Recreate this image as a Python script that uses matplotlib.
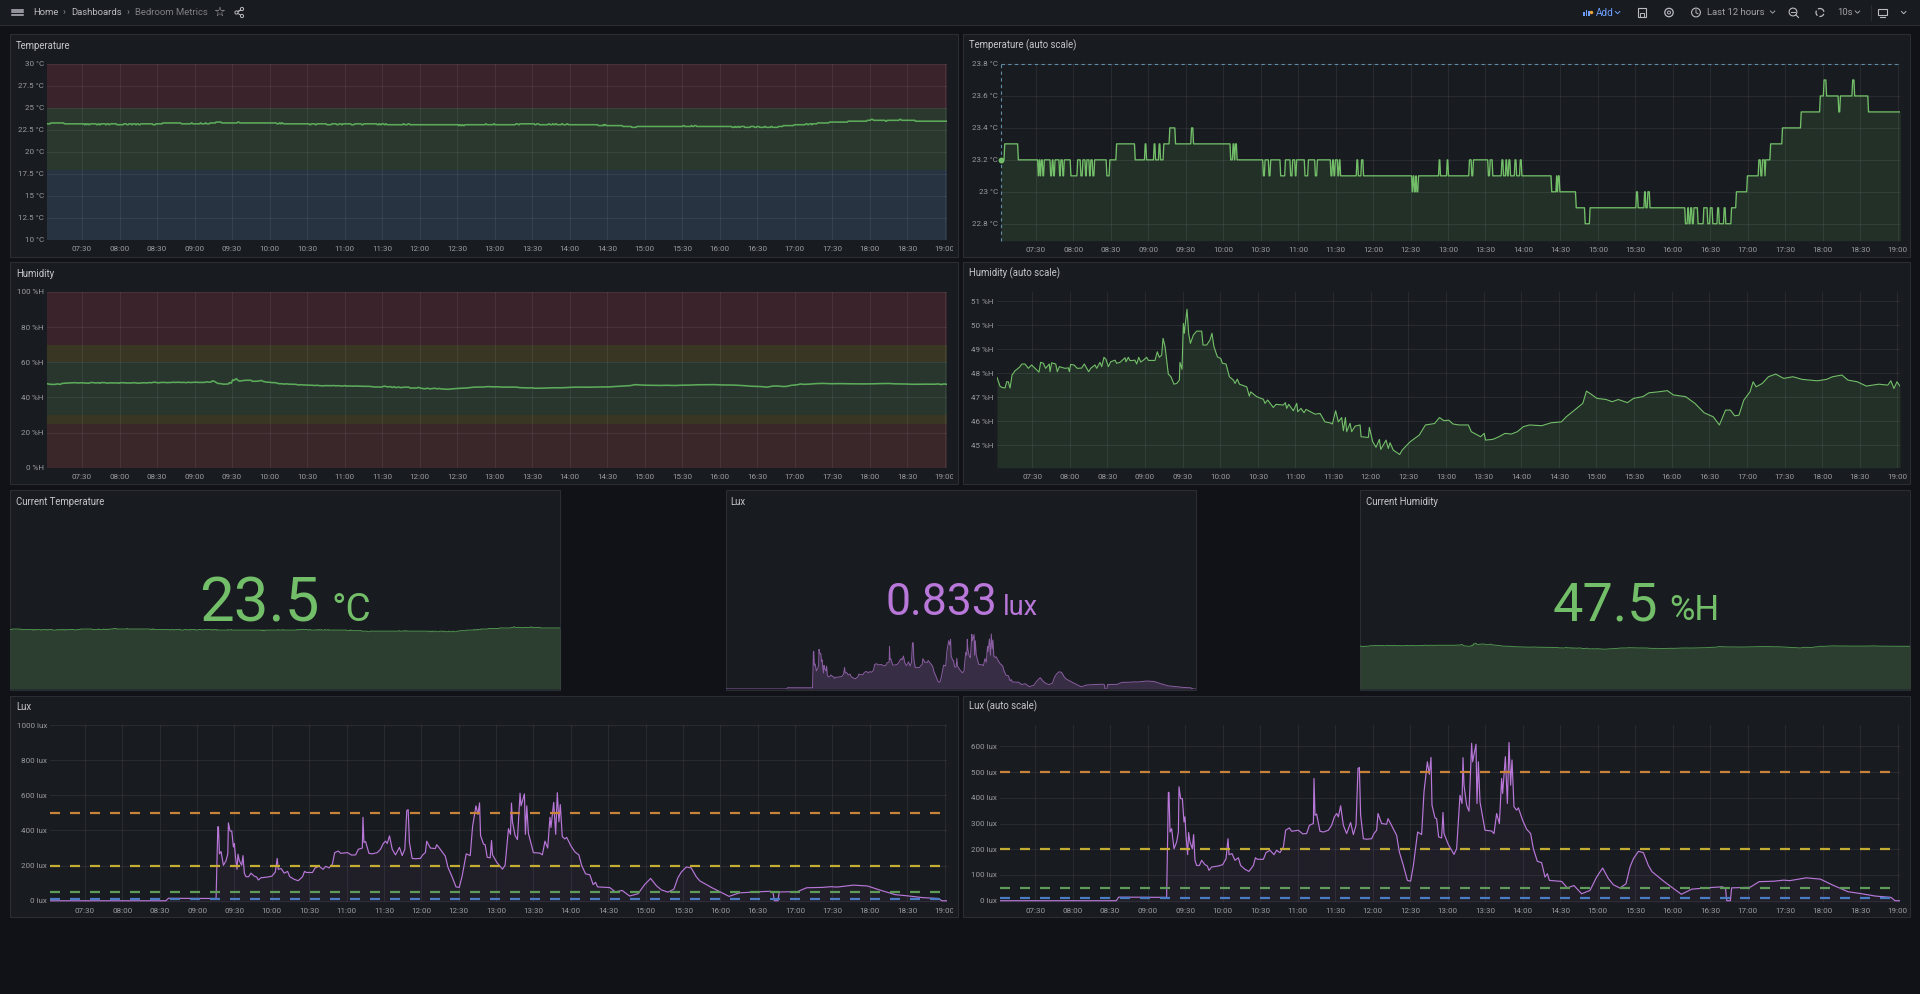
"""
Bedroom Metrics dashboard, redrawn with matplotlib.
"""
import numpy as np
import matplotlib
matplotlib.use('Agg')
import matplotlib.pyplot as plt
from matplotlib.patches import Rectangle, Circle
from matplotlib.transforms import Bbox

plt.rcParams['font.family'] = ['Roboto', 'DejaVu Sans']
plt.rcParams['lines.scale_dashes'] = False

W, H = 1920, 994

# time is in minutes since 07:00
time_ticks = list(range(30, 721, 30))
time_labels = ['07:30', '08:00', '08:30', '09:00', '09:30', '10:00', '10:30', '11:00',
               '11:30', '12:00', '12:30', '13:00', '13:30', '14:00', '14:30', '15:00',
               '15:30', '16:00', '16:30', '17:00', '17:30', '18:00', '18:30', '19:00']

# (minute the reading changes, new reading)
temperature = np.array([
    (2, 23.2), (4.7, 23.3), (15.6, 23.2), (31.6, 23.1), (32.4, 23.2), (33.2, 23.1), (34, 23.2),
    (35.3, 23.1), (36.4, 23.2), (41.5, 23.1), (42.8, 23.2), (43.9, 23.1), (45, 23.2), (48.7, 23.1),
    (49.7, 23.2), (51.3, 23.1), (52.4, 23.2), (57.7, 23.1), (63.1, 23.2), (65.7, 23.1), (67.3, 23.2),
    (69.5, 23.1), (70.5, 23.2), (72.7, 23.1), (73.7, 23.2), (75.3, 23.1), (76.7, 23.2), (86.5, 23.1),
    (88.9, 23.2), (94.3, 23.3), (109.2, 23.2), (117.2, 23.3), (118.3, 23.2), (124.4, 23.3),
    (125.5, 23.2), (128.4, 23.3), (129.5, 23.2), (132.1, 23.3), (136.9, 23.4), (141.5, 23.3),
    (154.3, 23.4), (155.9, 23.3), (185.7, 23.2), (187.6, 23.3), (188.7, 23.2), (189.5, 23.3),
    (190.8, 23.2), (211.9, 23.1), (213.2, 23.2), (216.4, 23.1), (217.7, 23.2), (225.7, 23.1),
    (229.5, 23.2), (233.7, 23.1), (235.3, 23.2), (237.5, 23.1), (238.5, 23.2), (245.2, 23.1),
    (247.9, 23.2), (253.5, 23.1), (255.1, 23.2), (266, 23.1), (267.3, 23.2), (268.4, 23.1),
    (269.5, 23.2), (271.6, 23.1), (272.7, 23.2), (273.7, 23.1), (286.8, 23.2), (287.9, 23.1),
    (290.5, 23.2), (292.1, 23.1), (331.1, 23.0), (331.9, 23.1), (332.9, 23.0), (334, 23.1),
    (334.8, 23.0), (336.1, 23.1), (352.7, 23.2), (353.7, 23.1), (359.1, 23.2), (360.1, 23.1),
    (376.9, 23.2), (378.8, 23.1), (380.1, 23.2), (392.1, 23.1), (393.5, 23.2), (395.6, 23.1),
    (402.9, 23.2), (404.2, 23.1), (406.2, 23.2), (407.2, 23.1), (408.5, 23.2), (409.8, 23.1),
    (413.4, 23.2), (414.7, 23.1), (417.6, 23.2), (418.9, 23.1), (442.8, 23.0), (446.7, 23.1),
    (447.3, 23.0), (448, 23.1), (449.3, 23.0), (462.4, 22.9), (469.6, 22.8), (473.5, 22.9),
    (510.7, 23.0), (512, 22.9), (517.2, 23.0), (518.2, 22.9), (519.8, 23.0), (521.5, 22.9),
    (549.9, 22.8), (551.8, 22.9), (552.8, 22.8), (554.1, 22.9), (555.4, 22.8), (556.7, 22.9),
    (560, 22.8), (564.6, 22.9), (567.8, 22.8), (569.8, 22.9), (571.8, 22.8), (575.7, 22.9),
    (577, 22.8), (580.9, 22.9), (582.2, 22.8), (586.8, 22.9), (590.7, 23.0), (599.5, 23.1),
    (608.7, 23.2), (610.3, 23.1), (611.6, 23.2), (613.6, 23.1), (614.2, 23.2), (618.1, 23.3),
    (627.6, 23.4), (642.6, 23.5), (657.9, 23.6), (660.9, 23.7), (662.9, 23.6), (672.7, 23.5),
    (674, 23.6), (683.8, 23.7), (685.4, 23.6), (696.5, 23.5), (722, 23.5),
])

# (minute, reading)
humidity = np.array([
    (2, 47.83), (3.5, 47.6), (4.4, 47.47), (5.7, 47.42), (8.4, 47.39), (9.7, 47.65), (11, 47.65),
    (12.4, 47.39), (14, 47.93), (16.4, 48.11), (19.8, 48.25), (21.9, 48.39), (24.3, 48.39),
    (27, 48.21), (29.6, 48.35), (32.3, 48.21), (35.5, 48.05), (36.8, 48.46), (39, 48.42),
    (40.8, 48.21), (43.7, 48.39), (44.3, 48.07), (45.6, 48.44), (48.8, 48.39), (50.1, 48.07),
    (51.7, 48.28), (56.2, 48.21), (58.9, 48.23), (59.7, 48.07), (60.7, 48.37), (63.4, 48.35),
    (66, 48.21), (69.5, 48.22), (71.6, 48.39), (75.1, 48.07), (76.7, 48.21), (80.1, 48.35),
    (81.5, 48.21), (84.1, 48.46), (85.5, 48.28), (87.3, 48.67), (88.9, 48.58), (90.8, 48.28),
    (92.6, 48.48), (96.1, 48.55), (97.4, 48.42), (100.1, 48.46), (104.1, 48.65), (104.9, 48.48),
    (106.7, 48.67), (108.1, 48.53), (112, 48.55), (113.4, 48.39), (115, 48.67), (116.6, 48.47),
    (118.7, 48.55), (121.3, 48.67), (122.7, 48.54), (128, 48.54), (129.8, 48.9), (131.4, 48.67),
    (133.3, 48.76), (134.4, 49.46), (136, 49.11), (138.6, 47.97), (140.7, 47.86), (143.1, 47.55),
    (145.3, 47.58), (147.4, 47.72), (147.9, 48.46), (149.5, 48.17), (150.6, 50.08), (151.4, 49.67),
    (152.2, 50.08), (153.5, 50.67), (154.8, 49.67), (156.2, 49.25), (158.6, 49.6), (161.2, 49.76),
    (165.2, 49.76), (166.3, 49.18), (169.2, 49.18), (171.8, 49.39), (173.4, 49.67), (175, 49.11),
    (177.7, 48.69), (180.4, 48.62), (181.7, 48.42), (184.6, 48.39), (187.3, 47.86), (190.5, 47.72),
    (191.8, 47.58), (193.6, 47.76), (195.3, 47.55), (201.1, 47.44), (203.2, 47.05), (204.3, 47.23),
    (209, 47.03), (214.4, 46.92), (215.7, 46.75), (217.8, 46.89), (222.3, 46.58), (224.5, 46.71),
    (230.3, 46.68), (231.9, 46.78), (233, 46.54), (234.6, 46.71), (238.3, 46.44), (241, 46.75),
    (241.8, 46.4), (244.4, 46.54), (246.8, 46.36), (248.4, 46.5), (255.6, 46.3), (259.6, 46.33),
    (263.5, 45.98), (267.5, 45.94), (269.4, 45.89), (272, 46.44), (274.2, 45.98), (276.8, 46.16),
    (278.2, 45.61), (279.8, 46.16), (280.8, 45.57), (283.5, 45.92), (284.8, 45.57), (287.5, 45.8),
    (291.5, 45.85), (292.3, 45.36), (298.1, 45.33), (298.9, 45.75), (301.6, 45.15), (304.2, 44.92),
    (306.9, 45.25), (308, 44.83), (312.2, 45.22), (314, 44.87), (315.4, 45.11), (318, 44.8),
    (323.1, 44.62), (325, 44.8), (331.4, 45.15), (338.7, 45.43), (343.6, 45.85), (350.9, 45.91),
    (354.8, 46.16), (358.3, 46.03), (362.2, 46.05), (365.6, 45.89), (370.5, 45.85), (377.8, 45.85),
    (380.2, 45.57), (387.6, 45.36), (390.5, 45.5), (391.5, 45.22), (397.3, 45.25), (402.2, 45.36),
    (407.1, 45.5), (412, 45.47), (416.9, 45.57), (421.7, 45.78), (426.6, 45.85), (436.4, 45.82),
    (443.7, 45.94), (452, 45.98), (455.9, 46.19), (463.2, 46.5), (469.1, 46.75), (472, 47.26),
    (475.5, 47.14), (480.3, 46.96), (487.7, 46.91), (492.5, 46.82), (497.4, 46.91), (504.7, 46.78),
    (509.6, 46.96), (517, 47.03), (521.8, 47.19), (529.2, 47.23), (536.5, 47.28), (541.4, 47.1),
    (551.1, 47.03), (558.5, 46.75), (565.8, 46.36), (573.1, 46.19), (578, 45.85), (582.9, 46.47),
    (586.8, 46.47), (590.2, 46.23), (593.6, 46.26), (597.5, 46.89), (602.4, 47.23), (604.9, 47.65),
    (607.3, 47.44), (612.2, 47.58), (617.1, 47.86), (622.9, 47.97), (629.3, 47.79), (636.6, 47.86),
    (643.9, 47.75), (656.1, 47.69), (663.4, 47.75), (668.3, 47.86), (675.7, 47.93), (680.5, 47.72),
    (687.9, 47.65), (695.2, 47.47), (705, 47.55), (712.3, 47.51), (714.7, 47.69), (717.2, 47.37),
    (719.6, 47.65), (722, 47.47),
])

lux = np.array([
    (2, 0), (95, 0), (97, 14), (135.3, 13), (136.1, 254), (136.7, 421), (137.2, 421), (138, 267),
    (139.3, 280), (141.2, 202), (143.3, 228), (144.7, 267), (145.2, 443), (146.5, 397), (147.9, 397),
    (149.2, 306), (150, 326), (150.8, 254), (152.1, 179), (152.9, 265), (154, 228), (155.9, 202),
    (156.9, 257), (158, 157), (159.3, 137), (161.5, 137), (163.3, 157), (166, 140), (167.9, 135),
    (169.2, 118), (171.3, 131), (176.7, 135), (180.1, 140), (182.8, 163), (184.4, 241), (185.2, 179),
    (187.6, 183), (190, 157), (192.7, 167), (194.5, 137), (198, 122), (201.2, 114), (204.7, 137),
    (206.3, 167), (207.9, 161), (212.7, 161), (214.8, 187), (218, 196), (221.2, 179), (223.3, 196),
    (226, 187), (228.7, 209), (230.5, 274), (233.5, 283), (235.3, 270), (240.7, 274), (244.1, 260),
    (247.3, 261), (249.5, 293), (252.7, 300), (253.2, 475), (254, 332), (255.3, 337), (258, 270),
    (260.7, 267), (264.7, 274), (267.3, 293), (269.5, 326), (271.3, 339), (272.7, 326), (274.5, 369),
    (276.7, 293), (279.3, 261), (282.5, 304), (284.7, 257), (286.8, 293), (288.4, 514), (289.5, 518),
    (290.5, 332), (292.7, 241), (295.3, 239), (299.3, 241), (301.2, 261), (303.3, 274), (304.4, 339),
    (307.3, 300), (311.3, 297), (312.4, 319), (314.5, 300), (319.3, 254), (321.5, 189), (324.7, 137),
    (327.9, 79), (330.5, 76), (332.7, 137), (336.1, 267), (339.3, 257), (341.2, 423), (343.9, 540),
    (345.5, 491), (346.8, 557), (347.6, 371), (350, 322), (351.3, 319), (352.9, 248), (355.3, 244),
    (356.4, 343), (357.2, 261), (360.7, 218), (365.2, 180), (367.3, 202), (370, 410), (371.6, 378),
    (372.4, 556), (373.2, 449), (375.3, 371), (377.2, 348), (379.3, 612), (380.1, 540), (382.8, 608),
    (383.6, 378), (384.7, 540), (386, 384), (390, 274), (395.3, 271), (397.2, 261), (399.3, 339),
    (401.5, 300), (403.3, 475), (404.1, 417), (406.3, 560), (407.9, 378), (409.2, 615), (410.5, 449),
    (411.6, 547), (413.2, 365), (415.3, 352), (416.7, 361), (420.1, 313), (423.3, 278), (426.5, 261),
    (428.7, 202), (431.9, 153), (435.3, 148), (438, 92), (439.9, 105), (441.5, 79), (451.3, 75),
    (455.9, 50), (461.2, 59), (467.3, 27), (474, 40), (479.3, 92), (484.1, 127), (488.7, 86),
    (492.7, 62), (498, 49), (502.8, 66), (506, 131), (508.7, 163), (512.7, 192), (516.7, 187),
    (520.7, 137), (523.6, 113), (533.4, 74), (547.1, 25), (555.4, 45), (570.1, 51), (579.9, 54),
    (582.4, 48), (583.4, 0), (586.3, 0), (587.3, 50), (602, 52), (609.3, 74), (621.6, 76),
    (628.9, 80), (633.8, 78), (647, 89), (658.3, 84), (668.1, 61), (680.4, 35), (690.2, 28),
    (702.4, 18), (714.7, 13), (718.1, 0), (722, 0),
])

temp_bands = [(25, 30, '#3a232a'), (18, 25, '#2a382d'), (10, 18, '#273341')]
hum_bands = [(70, 100, '#3a232a'), (60, 70, '#3a3624'), (30, 60, '#28362e'),
             (25, 30, '#3a3624'), (0, 25, '#3a2729')]
lux_thresholds = [(500, '#c8823a'), (200, '#c4ad32'), (50, '#5f9c5a'), (10, '#4a7cc4')]

temp_full_ticks = [10, 12.5, 15, 17.5, 20, 22.5, 25, 27.5, 30]
temp_auto_ticks = [22.8, 23, 23.2, 23.4, 23.6, 23.8]
hum_full_ticks = [0, 20, 40, 60, 80, 100]
hum_auto_ticks = [45, 46, 47, 48, 49, 50, 51]
lux_full_ticks = [0, 200, 400, 600, 800, 1000]
lux_auto_ticks = [0, 100, 200, 300, 400, 500, 600]

BG = '#111217'
PANEL = '#181b1f'
BORDER = '#2a2d33'
GREEN = '#73bf69'
PURPLE = '#b877d9'
TICK = '#9a9ca2'
TITLE = '#c4c5cb'
CHROME = '#b9bac2'


def px_axes(fig, x0, y0, x1, y1):
    """Axes placed by screen pixels, y measured from the top."""
    return fig.add_axes([x0 / W, 1 - y1 / H, (x1 - x0) / W, (y1 - y0) / H])


def draw_panel(chrome, x0, y0, x1, y1, title, title_x, title_y):
    chrome.add_patch(Rectangle((x0, y0), x1 - x0, y1 - y0, facecolor=PANEL, edgecolor=BORDER, lw=0.8))
    chrome.text(title_x, title_y + 0.7, title, color=TITLE, fontsize=6.9, va='center', ha='left')


def time_axes(fig, x0, y0, x1, y1, ylim, yticks, unit, clip_x):
    ax = px_axes(fig, x0, y0, x1, y1)
    ax.set_facecolor('none')
    for spine in ax.spines.values():
        spine.set_visible(False)
    ax.set_xlim(2, 722)
    ax.set_ylim(*ylim)
    ax.set_xticks(time_ticks)
    ax.set_xticklabels(time_labels)
    ax.set_yticks(yticks)
    ax.set_yticklabels([f'{t:g} {unit}' for t in yticks])
    ax.tick_params(length=0, labelsize=5.8, labelcolor=TICK)
    ax.tick_params(axis='x', pad=4.2)
    ax.tick_params(axis='y', pad=2.2)
    ax.grid(True, color='#ccccdc', alpha=0.09, lw=0.75, zorder=2)
    ax.set_axisbelow(False)
    # last time label is cut off at the panel edge
    clip = Bbox.from_extents(0, 0, clip_x, H)
    for lab in ax.get_xticklabels():
        lab.set_clip_box(clip)
        lab.set_clip_on(True)
    return ax


def draw_bands(ax, bands):
    for low, high, color in bands:
        ax.axhspan(low, high, facecolor=color, edgecolor='none', zorder=1)


def draw_thresholds(ax):
    for value, color in lux_thresholds:
        ax.axhline(value, color=color, lw=1.6, ls=(0, (7.2, 7.2)), zorder=4)


def spark_axes(fig, x0, y0, x1, y1, ylim):
    ax = px_axes(fig, x0, y0, x1, y1)
    ax.set_xlim(2, 722)
    ax.set_ylim(*ylim)
    ax.axis('off')
    return ax


def step_path(minutes, values, ramp=0.3):
    """Path for a stepped reading, each change takes a short ramp like the sampled line does."""
    xs, ys = [minutes[0]], [values[0]]
    for t, v, prev in zip(minutes[1:], values[1:], values[:-1]):
        xs += [t - ramp, t + ramp]
        ys += [prev, v]
    return np.array(xs), np.array(ys)


def chevron(c, x, y, color):
    c.plot([x - 2.2, x, x + 2.2], [y - 1, y + 1.2, y - 1], color=color, lw=0.7)


def draw_topbar(c):
    c.add_patch(Rectangle((0, 0), W, 24.7, facecolor=PANEL, edgecolor='none'))
    c.plot([0, W], [24.7, 24.7], color=BORDER, lw=0.8)

    for y in (9.5, 12, 14.5):
        c.plot([11.5, 23], [y, y], color=CHROME, lw=1.1)

    c.text(33.5, 12.6, 'Home', color=CHROME, fontsize=6.8, va='center')
    c.text(64.5, 12.6, '\u203a', color='#8a8c92', fontsize=6.8, va='center', ha='center')
    c.text(71.5, 12.6, 'Dashboards', color=CHROME, fontsize=6.8, va='center')
    c.text(127.7, 12.6, '\u203a', color='#8a8c92', fontsize=6.8, va='center', ha='center')
    c.text(135, 12.6, 'Bedroom Metrics', color='#7d7f85', fontsize=6.8, va='center')
    c.text(219, 12.5, '\u2606', color=CHROME, fontsize=9.5, va='center', ha='center', family='DejaVu Sans')

    # share icon
    c.plot([236.5, 242, 236.5], [12.5, 9, 12.5], color=CHROME, lw=0.7)
    c.plot([236.5, 242], [12.5, 16], color=CHROME, lw=0.7)
    for cx, cy in ((236.5, 12.5), (242, 9), (242, 16)):
        c.add_patch(Circle((cx, cy), 1.6, facecolor=PANEL, edgecolor=CHROME, lw=0.7, zorder=3))

    # add button
    for bx, bh in ((1583, 4), (1585.5, 6), (1588, 5)):
        c.add_patch(Rectangle((bx, 16 - bh), 1.6, bh, facecolor='#6e9fff', edgecolor='none'))
    c.add_patch(Circle((1591.5, 12.5), 1.7, facecolor='#f2a33a', edgecolor='none'))
    c.text(1596, 12.6, 'Add', color='#6e9fff', fontsize=7.2, va='center')
    chevron(c, 1617.6, 12.5, '#6e9fff')

    # save
    c.add_patch(Rectangle((1638, 8), 8, 9, facecolor='none', edgecolor=CHROME, lw=0.8))
    c.add_patch(Rectangle((1640, 13), 4, 4, facecolor='none', edgecolor=CHROME, lw=0.7))
    # settings
    c.add_patch(Circle((1669, 12.5), 4.2, facecolor='none', edgecolor=CHROME, lw=0.9))
    c.add_patch(Circle((1669, 12.5), 1.5, facecolor='none', edgecolor=CHROME, lw=0.7))
    # clock
    c.add_patch(Circle((1696, 12.5), 4.4, facecolor='none', edgecolor=CHROME, lw=0.8))
    c.plot([1696, 1696, 1698], [9.8, 12.8, 13.8], color=CHROME, lw=0.7)
    c.text(1707, 12.6, 'Last 12 hours', color='#a0a2a8', fontsize=6.8, va='center')
    chevron(c, 1772.6, 12, '#a0a2a8')
    # zoom out
    c.add_patch(Circle((1793, 12), 3.9, facecolor='none', edgecolor=CHROME, lw=0.8))
    c.plot([1791, 1795], [12, 12], color=CHROME, lw=0.7)
    c.plot([1796, 1798.5], [15, 17.5], color=CHROME, lw=0.8)
    # refresh
    c.add_patch(Circle((1820, 12.5), 4, facecolor='none', edgecolor=CHROME, lw=0.9, ls=(0, (4, 1.5))))
    c.text(1837, 12.6, '10s', color='#a0a2a8', fontsize=6.8, va='center')
    chevron(c, 1857.5, 12, '#a0a2a8')
    c.plot([1871.4, 1871.4], [5, 20], color=BORDER, lw=0.8)
    # monitor
    c.add_patch(Rectangle((1878, 8.5), 8.5, 6.5, facecolor='none', edgecolor=CHROME, lw=0.8))
    c.plot([1879.5, 1885], [17, 17], color=CHROME, lw=0.8)
    chevron(c, 1903.7, 12.5, CHROME)


fig = plt.figure(figsize=(W / 100, H / 100), dpi=100, facecolor=BG)

chrome = px_axes(fig, 0, 0, W, H)
chrome.set_xlim(0, W)
chrome.set_ylim(H, 0)
chrome.axis('off')
draw_topbar(chrome)

draw_panel(chrome, 10, 34, 958, 257, 'Temperature', 16, 45)
draw_panel(chrome, 963, 34, 1910, 257, 'Temperature (auto scale)', 969, 45)
draw_panel(chrome, 10, 262, 958, 484, 'Humidity', 16, 273)
draw_panel(chrome, 963, 262, 1910, 484, 'Humidity (auto scale)', 969, 273)
draw_panel(chrome, 10, 490, 560, 690, 'Current Temperature', 16, 501)
draw_panel(chrome, 725.5, 490, 1195.5, 690, 'Lux', 730.5, 501)
draw_panel(chrome, 1360, 490, 1910, 690, 'Current Humidity', 1366, 501)
draw_panel(chrome, 10, 696, 958, 917, 'Lux', 16, 706)
draw_panel(chrome, 963, 696, 1910, 917, 'Lux (auto scale)', 969, 706)

t_min, t_val = step_path(*temperature.T)
h_min, h_val = humidity.T
l_min, l_val = lux.T

# Temperature, fixed range
ax = time_axes(fig, 47, 64, 947, 240, (10, 30), temp_full_ticks, '°C', 953)
draw_bands(ax, temp_bands)
ax.plot(t_min, t_val, color='#5cab5a', lw=1.15, zorder=3)

# Temperature, auto scale
ax = time_axes(fig, 1001, 64, 1900, 240.7, (22.694, 23.8), temp_auto_ticks, '°C', 1906.5)
ax.fill_between(t_min, t_val, 22.694, color=GREEN, alpha=0.13, lw=0, zorder=1)
ax.plot(t_min, t_val, color=GREEN, lw=0.95, zorder=3)
ax.axhline(23.8, color='#5f8ea8', lw=0.8, ls=(0, (2.4, 2.4)), clip_on=False, zorder=4)
ax.axvline(2, color='#5f8ea8', lw=0.8, ls=(0, (2.4, 2.4)), clip_on=False, zorder=4)
ax.plot([t_min[0]], [t_val[0]], 'o', color=GREEN, ms=3.2, clip_on=False, zorder=5)

# Humidity, fixed range
ax = time_axes(fig, 47, 292, 947, 467.7, (0, 100), hum_full_ticks, '%H', 953)
draw_bands(ax, hum_bands)
ax.plot(h_min, h_val, color='#5cab5a', lw=1.15, zorder=3)

# Humidity, auto scale
ax = time_axes(fig, 997, 292, 1900, 467.7, (44.07, 51.39), hum_auto_ticks, '%H', 1906.5)
ax.fill_between(h_min, h_val, 44.07, color=GREEN, alpha=0.13, lw=0, zorder=1)
ax.plot(h_min, h_val, color=GREEN, lw=0.8, zorder=3)

# Stat panels
ax = spark_axes(fig, 10, 490, 560, 689, (12, 49.5))
ax.fill_between(t_min, t_val, 12, color=GREEN, alpha=0.22, lw=0)
ax.plot(t_min, t_val, color='#4f8f4e', lw=0.7)

ax = spark_axes(fig, 725.5, 490, 1195.5, 689, (0, 2225))
ax.fill_between(l_min, l_val, 0, color=PURPLE, alpha=0.2, lw=0)
ax.plot(l_min, l_val, color='#8b5ea3', lw=0.7)

ax = spark_axes(fig, 1360, 490, 1910, 689, (4.8, 204))
ax.fill_between(h_min, h_val, 4.8, color=GREEN, alpha=0.22, lw=0)
ax.plot(h_min, h_val, color='#4f8f4e', lw=0.7)

# Stat values sit above the sparklines
top = px_axes(fig, 0, 0, W, H)
top.set_xlim(0, W)
top.set_ylim(H, 0)
top.axis('off')
top.patch.set_alpha(0)
top.text(199.5, 621, '23.5', color=GREEN, fontsize=44.5, va='baseline', ha='left')
top.text(332, 621, '°C', color=GREEN, fontsize=28, va='baseline', ha='left')
top.text(885, 615, '0.833', color=PURPLE, fontsize=32, va='baseline', ha='left')
top.text(1002.5, 615, 'lux', color=PURPLE, fontsize=19.5, va='baseline', ha='left')
top.text(1553, 620.5, '47.5', color=GREEN, fontsize=39, va='baseline', ha='left')
top.text(1669, 620.5, '%H', color=GREEN, fontsize=25, va='baseline', ha='left')

# Lux, fixed range
ax = time_axes(fig, 50, 725, 947, 902, (-7, 1000), lux_full_ticks, 'lux', 953)
ax.fill_between(l_min, l_val, -7, color=PURPLE, alpha=0.05, lw=0, zorder=1)
draw_thresholds(ax)
ax.plot(l_min, l_val, color=PURPLE, lw=0.85, zorder=3.5)

# Lux, auto scale
ax = time_axes(fig, 1000, 725, 1900, 902, (-5, 683), lux_auto_ticks, 'lux', 1906.5)
ax.fill_between(l_min, l_val, -5, color=PURPLE, alpha=0.05, lw=0, zorder=1)
draw_thresholds(ax)
ax.plot(l_min, l_val, color=PURPLE, lw=0.85, zorder=3.5)

fig.savefig('out.png', dpi=100, facecolor=BG)
